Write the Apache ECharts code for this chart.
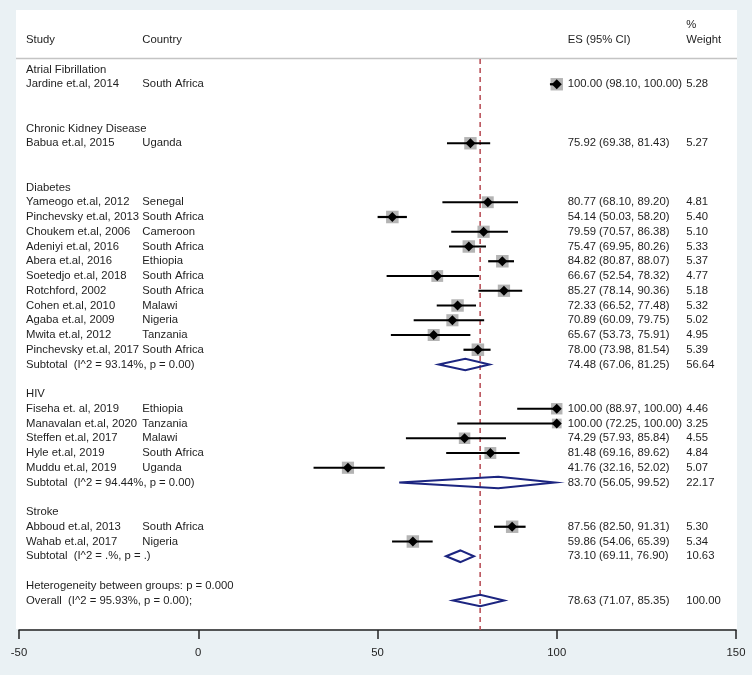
<!DOCTYPE html>
<html>
<head>
<meta charset="utf-8">
<script src="https://cdn.jsdelivr.net/npm/echarts@6/dist/echarts.min.js"></script>
<style>
html,body{margin:0;padding:0;background:#eaf1f4;}
#chart{width:752px;height:675px;}
</style>
</head>
<body>
<div id="chart"></div>
<script>
// ---------------- data ----------------
const groups = ['Atrial Fibrillation', 'Chronic Kidney Disease', 'Diabetes', 'HIV', 'Stroke'];
const studyGroup = [0, 1, 2, 2, 2, 2, 2, 2, 2, 2, 2, 2, 2, 3, 3, 3, 3, 3, 4, 4];
const studyNames = [
  'Jardine et.al, 2014', 'Babua et.al, 2015',
  'Yameogo et.al, 2012', 'Pinchevsky et.al, 2013', 'Choukem et.al, 2006', 'Adeniyi et.al, 2016',
  'Abera et.al, 2016', 'Soetedjo et.al, 2018', 'Rotchford, 2002', 'Cohen et.al, 2010',
  'Agaba et.al, 2009', 'Mwita et.al, 2012', 'Pinchevsky et.al, 2017',
  'Fiseha et. al, 2019', 'Manavalan et.al, 2020', 'Steffen et.al, 2017', 'Hyle et.al, 2019', 'Muddu et.al, 2019',
  'Abboud et.al, 2013', 'Wahab et.al, 2017'
];
const countries = [
  'South Africa', 'Uganda',
  'Senegal', 'South Africa', 'Cameroon', 'South Africa', 'Ethiopia', 'South Africa', 'South Africa',
  'Malawi', 'Nigeria', 'Tanzania', 'South Africa',
  'Ethiopia', 'Tanzania', 'Malawi', 'South Africa', 'Uganda',
  'South Africa', 'Nigeria'
];
const esValues = [100.00, 75.92, 80.77, 54.14, 79.59, 75.47, 84.82, 66.67, 85.27, 72.33, 70.89, 65.67, 78.00,
  100.00, 100.00, 74.29, 81.48, 41.76, 87.56, 59.86];
const ciLow = [98.10, 69.38, 68.10, 50.03, 70.57, 69.95, 80.87, 52.54, 78.14, 66.52, 60.09, 53.73, 73.98,
  88.97, 72.25, 57.93, 69.16, 32.16, 82.50, 54.06];
const ciHigh = [100.00, 81.43, 89.20, 58.20, 86.38, 80.26, 88.07, 78.32, 90.36, 77.48, 79.75, 75.91, 81.54,
  100.00, 100.00, 85.84, 89.62, 52.02, 91.31, 65.39];
const weights = [5.28, 5.27, 4.81, 5.40, 5.10, 5.33, 5.37, 4.77, 5.18, 5.32, 5.02, 4.95, 5.39,
  4.46, 3.25, 4.55, 4.84, 5.07, 5.30, 5.34];

const subLabels = [null, null, 'Subtotal  (I^2 = 93.14%, p = 0.00)', 'Subtotal  (I^2 = 94.44%, p = 0.00)', 'Subtotal  (I^2 = .%, p = .)'];
const subES = [null, null, 74.48, 83.70, 73.10];
const subLow = [null, null, 67.06, 56.05, 69.11];
const subHigh = [null, null, 81.25, 99.52, 76.90];
const subWeight = [null, null, 56.64, 22.17, 10.63];

const heterogeneityText = 'Heterogeneity between groups: p = 0.000';
const overallLabel = 'Overall  (I^2 = 95.93%, p = 0.00);';
const overallES = 78.63, overallLow = 71.07, overallHigh = 85.35, overallWeight = 100.00;

const headerLabels = { study: 'Study', country: 'Country', es: 'ES (95% CI)', pct: '%', weight: 'Weight' };
const xTicks = { min: -50, max: 150, interval: 50 };

// ---------------- layout (data-unit columns / row indices) ----------------
const colStudy = -48.05, colCountry = -15.6, colES = 103.05, colWeight = 136.1;
const refLineTop = -0.72, refLineBottom = 38;
const FONT = "'Liberation Sans', Arial, sans-serif";
const FS = 11.3;
const TXT = '#1e1e1e';

// ---------------- build rows ----------------
const fmt = v => v.toFixed(2);
const texts = [];     // {x,row,text}
const studyData = []; // [es, lo, hi, row, w]
const diamondData = []; // [es, lo, hi, row]
let row = 0;
texts.push({ x: colStudy, row: -2, text: headerLabels.study });
texts.push({ x: colCountry, row: -2, text: headerLabels.country });
texts.push({ x: colES, row: -2, text: headerLabels.es });
texts.push({ x: colWeight, row: -3, text: headerLabels.pct });
texts.push({ x: colWeight, row: -2, text: headerLabels.weight });

groups.forEach((g, gi) => {
  texts.push({ x: colStudy, row: row, text: g });
  row++;
  studyGroup.forEach((sg, i) => {
    if (sg !== gi) return;
    texts.push({ x: colStudy, row: row, text: studyNames[i] });
    texts.push({ x: colCountry, row: row, text: countries[i] });
    texts.push({ x: colES, row: row, text: fmt(esValues[i]) + ' (' + fmt(ciLow[i]) + ', ' + fmt(ciHigh[i]) + ')' });
    texts.push({ x: colWeight, row: row, text: fmt(weights[i]) });
    studyData.push([esValues[i], ciLow[i], ciHigh[i], row, weights[i]]);
    row++;
  });
  if (subLabels[gi]) {
    texts.push({ x: colStudy, row: row, text: subLabels[gi] });
    texts.push({ x: colES, row: row, text: fmt(subES[gi]) + ' (' + fmt(subLow[gi]) + ', ' + fmt(subHigh[gi]) + ')' });
    texts.push({ x: colWeight, row: row, text: fmt(subWeight[gi]) });
    diamondData.push([subES[gi], subLow[gi], subHigh[gi], row]);
  }
  row++; // subtotal row (blank if single study)
  row++; // blank spacer
});
texts.push({ x: colStudy, row: row, text: heterogeneityText });
row++;
texts.push({ x: colStudy, row: row, text: overallLabel });
texts.push({ x: colES, row: row, text: fmt(overallES) + ' (' + fmt(overallLow) + ', ' + fmt(overallHigh) + ')' });
texts.push({ x: colWeight, row: row, text: fmt(overallWeight) });
diamondData.push([overallES, overallLow, overallHigh, row]);

// ---------------- chart ----------------
const chart = echarts.init(document.getElementById('chart'), null, { renderer: 'canvas' });
const option = {
  backgroundColor: '#eaf1f4',
  animation: false,
  graphic: [
    { type: 'rect', z: -10, shape: { x: 16, y: 10, width: 721, height: 619 }, style: { fill: '#ffffff' } },
    { type: 'line', z: -9, shape: { x1: 16, y1: 58.5, x2: 737, y2: 58.5 }, style: { stroke: '#c4c4c4', lineWidth: 1.5 } }
  ],
  grid: { left: 19, right: 16, top: 10.5, height: 619.5, show: false },
  xAxis: {
    type: 'value', position: 'bottom', min: xTicks.min, max: xTicks.max, interval: xTicks.interval,
    axisLine: { show: true, onZero: false, lineStyle: { color: '#222', width: 1.5 } },
    axisTick: { show: true, length: 9, lineStyle: { color: '#222', width: 1.5 } },
    axisLabel: { color: TXT, fontSize: FS, fontFamily: FONT, margin: 17 },
    splitLine: { show: false }
  },
  yAxis: { type: 'value', inverse: true, min: -4, max: 38, show: false },
  series: [
    {
      type: 'line', z: 1, symbol: 'none', silent: true,
      data: [[overallES, refLineTop], [overallES, refLineBottom]],
      lineStyle: { color: '#b5474f', width: 1.5, type: [5, 4] }
    },
    {
      type: 'custom', z: 3, silent: true,
      data: studyData,
      renderItem: function (params, api) {
        const r = api.value(3);
        const pc = api.coord([api.value(0), r]);
        const pl = api.coord([api.value(1), r]);
        const ph = api.coord([api.value(2), r]);
        const s = 5.4 * Math.sqrt(api.value(4));
        const d = 5;
        return {
          type: 'group', children: [
            { type: 'rect', shape: { x: pc[0] - s / 2, y: pc[1] - s / 2, width: s, height: s }, style: { fill: '#b4b4b4' } },
            { type: 'line', shape: { x1: pl[0], y1: pl[1], x2: ph[0], y2: ph[1] }, style: { stroke: '#000', lineWidth: 2.2 } },
            { type: 'polygon', shape: { points: [[pc[0] - d, pc[1]], [pc[0], pc[1] - d], [pc[0] + d, pc[1]], [pc[0], pc[1] + d]] }, style: { fill: '#000' } }
          ]
        };
      }
    },
    {
      type: 'custom', z: 4, silent: true,
      data: diamondData,
      renderItem: function (params, api) {
        const r = api.value(3);
        const pc = api.coord([api.value(0), r]);
        const pl = api.coord([api.value(1), r]);
        const ph = api.coord([api.value(2), r]);
        const h = 5.8;
        return {
          type: 'polygon',
          shape: { points: [[pl[0], pl[1]], [pc[0], pc[1] - h], [ph[0], ph[1]], [pc[0], pc[1] + h]] },
          style: { fill: 'none', stroke: '#1c2580', lineWidth: 2 }
        };
      }
    },
    {
      type: 'custom', z: 5, silent: true,
      data: texts.map(t => [t.x, t.row]),
      renderItem: function (params, api) {
        const p = api.coord([api.value(0), api.value(1)]);
        return {
          type: 'text',
          x: p[0], y: p[1],
          style: {
            text: texts[params.dataIndex].text,
            fill: TXT, fontSize: FS, fontFamily: FONT,
            align: 'left', verticalAlign: 'middle'
          }
        };
      }
    }
  ]
};
chart.setOption(option);
</script>
</body>
</html>
